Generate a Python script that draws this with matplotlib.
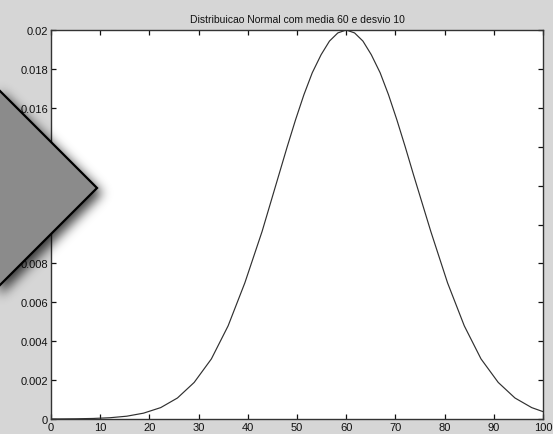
import matplotlib
matplotlib.use('Agg')
import matplotlib.pyplot as plt
import numpy as np
from matplotlib.path import Path
from matplotlib.patches import Polygon

# curve values
x = [0, 1.7, 5.1, 8.6, 12.0, 15.4, 18.8, 22.3, 25.7, 29.1, 32.6, 36.0, 39.4,
     42.9, 46.3, 48.0, 49.7, 51.4, 53.1, 54.9, 56.6, 58.3, 60, 61.7, 63.4,
     65.1, 66.9, 68.6, 70.3, 72.0, 73.7, 77.2, 80.6,
     84.0, 87.4, 90.9, 94.3, 97.7, 100]
y = [0.0000027, 0.0000044, 0.0000114, 0.0000282, 0.0000657, 0.000144, 0.000300,
     0.000586, 0.00108, 0.00188, 0.00309, 0.00479, 0.00700, 0.00964, 0.01254,
     0.01399, 0.01538, 0.01667, 0.01780, 0.01873, 0.01943, 0.01985, 0.0200,
     0.01985, 0.01943, 0.01873, 0.01780, 0.01667, 0.01538, 0.01399, 0.01254,
     0.00964, 0.00700, 0.00479, 0.00309, 0.00188, 0.00108, 0.000586, 0.000379]

xticks = [0, 10, 20, 30, 40, 50, 60, 70, 80, 90, 100]
yticks = [0, 0.002, 0.004, 0.006, 0.008, 0.01, 0.012, 0.014, 0.016, 0.018, 0.02]
ytick_labels = ['0', '0.002', '0.004', '0.006', '0.008', '0.01', '0.012',
                '0.014', '0.016', '0.018', '0.02']
title = 'Distribuicao Normal com media 60 e desvio 10'

plt.rcParams['font.family'] = ['Liberation Sans', 'DejaVu Sans']

W, H = 553, 435
bg = '#d6d6d6'
fig = plt.figure(figsize=(W / 100, H / 100), dpi=100, facecolor=bg)
ax = fig.add_axes([51 / W, 15 / H, 492 / W, 389 / H])
ax.plot(x, y, color='#303030', lw=0.85)
ax.set_xlim(0, 100)
ax.set_ylim(0, 0.02)
ax.set_xticks(xticks)
ax.set_yticks(yticks)
ax.set_yticklabels(ytick_labels)
ax.tick_params(direction='in', length=3.5, width=0.9, top=True, right=True,
               labelsize=8, pad=2, colors='#111111')
for s in ax.spines.values():
    s.set_color('#333333')
    s.set_linewidth(1.0)
ax.set_title(title, fontsize=7.5, pad=6, color='#111111')

# arrow decoration with a soft shadow, drawn over everything
over = fig.add_axes([0, 0, 1, 1], zorder=10)
over.set_xlim(0, W)
over.set_ylim(H, 0)
over.axis('off')
verts = [(-60, 32), (97, 189), (-60, 346)]
path = Path(verts + [verts[0]])
gx, gy = np.meshgrid(np.arange(W) + 0.5, np.arange(H) + 0.5)
pts = np.column_stack([gx.ravel() - 5, gy.ravel() - 5])
mask = path.contains_points(pts).reshape(H, W).astype(float)
k = np.arange(-18, 19)
ker = np.exp(-k ** 2 / (2 * 5.5 ** 2))
ker /= ker.sum()
mask = np.apply_along_axis(lambda r: np.convolve(r, ker, mode='same'), 1, mask)
mask = np.apply_along_axis(lambda c: np.convolve(c, ker, mode='same'), 0, mask)
rgba = np.zeros((H, W, 4))
rgba[..., 3] = mask * 0.75
over.imshow(rgba, extent=(0, W, H, 0), interpolation='bilinear')
over.add_patch(Polygon(verts, closed=True, fc='#8b8b8b', ec='black', lw=1.6))

fig.savefig('out.png', dpi=100, facecolor=bg)
